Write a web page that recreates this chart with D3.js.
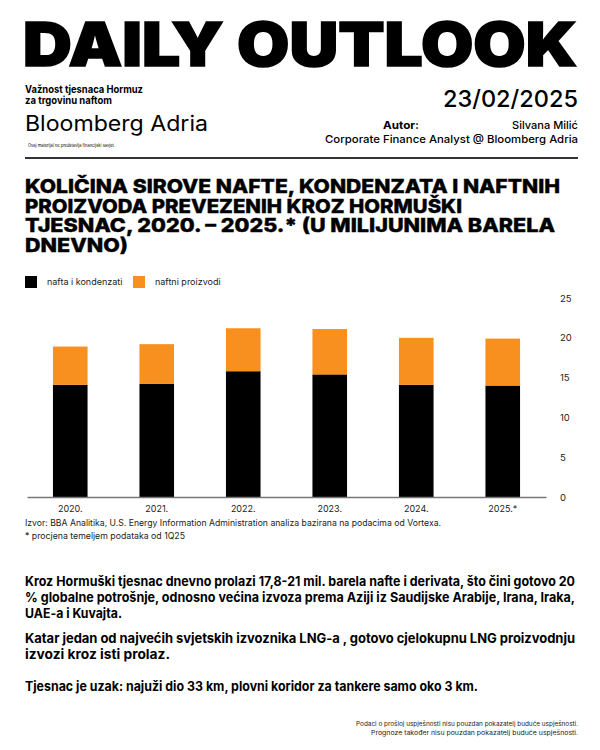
<!DOCTYPE html>
<html>
<head>
<meta charset="utf-8">
<script src="https://cdn.jsdelivr.net/npm/d3@7"></script>
<style>
  body { margin: 0; background: #fff; }
  text { font-family: Inter, "Liberation Sans", sans-serif; }
</style>
</head>
<body>
<div class="board"></div>
<script>
// chart data
const years = ['2020.', '2021.', '2022.', '2023.', '2024.', '2025.*'];
const crude = [14.1, 14.2, 15.8, 15.4, 14.1, 14.0];      // nafta i kondenzati
const products = [4.8, 5.0, 5.4, 5.7, 5.9, 5.9];       // naftni proizvodi
const seriesNames = ['nafta i kondenzati', 'naftni proizvodi'];
const seriesColors = ['#000000', '#F8901F'];
const yTicks = [0, 5, 10, 15, 20, 25];

const svg = d3.select('.board').append('svg')
  .attr('width', 600)
  .attr('height', 750);

// small helper for all the static text
function txt(s, x, y, size, weight, opts) {
  opts = opts || {};
  const t = svg.append('text')
    .text(s)
    .attr('x', x)
    .attr('y', y)
    .attr('font-size', size)
    .attr('font-weight', weight)
    .attr('fill', opts.fill || '#000')
    .attr('text-anchor', opts.anchor || 'start');
  if (opts.len) {
    t.attr('textLength', opts.len).attr('lengthAdjust', opts.adjust || 'spacingAndGlyphs');
  }
  if (opts.stroke) {
    t.attr('stroke', opts.fill || '#000').attr('stroke-width', opts.stroke);
  }
  return t;
}

// header
txt('DAILY OUTLOOK', 23, 66, 60, 900, {len: 554, stroke: 1.6});
txt('Važnost tjesnaca Hormuz', 25, 93, 10.5, 700, {len: 118});
txt('za trgovinu naftom', 25, 103.5, 10.5, 700, {len: 87});
txt('Bloomberg Adria', 25, 131, 21, 400, {len: 183});
txt('Ovaj materijal ne predstavlja financijski savjet.', 28, 147, 4.5, 400, {len: 87});
txt('23/02/2025', 578, 107, 23, 500, {anchor: 'end', len: 135});
txt('Autor:', 383, 129, 11, 700, {len: 36});
txt('Silvana Milić', 578, 129, 11, 500, {anchor: 'end', len: 66});
txt('Corporate Finance Analyst @ Bloomberg Adria', 578, 143, 11, 500, {anchor: 'end', len: 253});

svg.append('line')
  .attr('x1', 25).attr('x2', 578)
  .attr('y1', 158).attr('y2', 158)
  .attr('stroke', '#333')
  .attr('stroke-width', 2);

// chart title
txt('KOLIČINA SIROVE NAFTE, KONDENZATA I NAFTNIH', 25, 193, 19, 800, {len: 535, stroke: 0.4});
txt('PROIZVODA PREVEZENIH KROZ HORMUŠKI', 25, 212.5, 19, 800, {len: 437, stroke: 0.4});
txt('TJESNAC, 2020. – 2025.* (U MILIJUNIMA BARELA', 25, 232, 19, 800, {len: 530, stroke: 0.4});
txt('DNEVNO)', 25, 251.5, 19, 800, {len: 103, stroke: 0.4});

// legend
const legendX = [25, 133];
seriesNames.forEach((n, i) => {
  svg.append('rect')
    .attr('x', legendX[i]).attr('y', 276)
    .attr('width', 12).attr('height', 12)
    .attr('fill', seriesColors[i]);
  txt(n, legendX[i] + 22, 285, 9, 400, {fill: '#222'});
});

// the bars
const x = d3.scaleBand().domain(years).range([27, 546]).paddingInner(0.6).paddingOuter(0.3);
const y = d3.scaleLinear().domain([0, 25]).range([497, 298]);

const rows = years.map((yr, i) => ({year: yr, crude: crude[i], products: products[i]}));
const stack = d3.stack().keys(['crude', 'products'])(rows);

svg.append('g')
  .selectAll('g')
  .data(stack)
  .join('g')
  .attr('fill', (d, i) => seriesColors[i])
  .selectAll('rect')
  .data(d => d)
  .join('rect')
  .attr('x', d => x(d.data.year))
  .attr('width', x.bandwidth())
  .attr('y', d => y(d[1]))
  .attr('height', d => y(d[0]) - y(d[1]));

// y axis on the right, just numbers
const yAxis = svg.append('g')
  .attr('transform', 'translate(546,0)')
  .call(d3.axisRight(y).tickValues(yTicks).tickSize(0).tickPadding(14));
yAxis.select('.domain').remove();
yAxis.selectAll('text')
  .attr('font-size', 9.5)
  .attr('fill', '#222');

// x axis
const xAxis = svg.append('g')
  .attr('transform', 'translate(0,497)')
  .call(d3.axisBottom(x).tickSize(0).tickPadding(9).tickSizeOuter(0));
xAxis.select('.domain')
  .attr('stroke', '#777')
  .attr('stroke-width', 1.5);
xAxis.selectAll('text')
  .attr('font-size', 9)
  .attr('fill', '#222');

// source
txt('Izvor: BBA Analitika, U.S. Energy Information Administration analiza bazirana na podacima od Vortexa.', 25, 526, 8.5, 400, {fill: '#222', len: 416});
txt('* procjena temeljem podataka od 1Q25', 25, 539, 8.5, 400, {fill: '#222', len: 160});

// body text
txt('Kroz Hormuški tjesnac dnevno prolazi 17,8-21 mil. barela nafte i derivata, što čini gotovo 20', 25, 586, 13, 700, {len: 550});
txt('% globalne potrošnje, odnosno većina izvoza prema Aziji iz Saudijske Arabije, Irana, Iraka,', 25, 602, 13, 700, {len: 550});
txt('UAE-a i Kuvajta.', 25, 618, 13, 700, {len: 97});
txt('Katar jedan od najvećih svjetskih izvoznika LNG-a , gotovo cjelokupnu LNG proizvodnju', 25, 643, 13, 700, {len: 550, adjust: 'spacing'});
txt('izvozi kroz isti prolaz.', 25, 659, 13, 700, {len: 145});
txt('Tjesnac je uzak: najuži dio 33 km, plovni koridor za tankere samo oko 3 km.', 25, 691, 13, 700, {len: 453});

// footer
txt('Podaci o prošloj uspješnosti nisu pouzdan pokazatelj buduće uspješnosti.', 578, 726, 6, 400, {anchor: 'end', fill: '#222', len: 222});
txt('Prognoze također nisu pouzdan pokazatelj buduće uspješnosti.', 578, 735, 6, 400, {anchor: 'end', fill: '#222', len: 207});
</script>
</body>
</html>
